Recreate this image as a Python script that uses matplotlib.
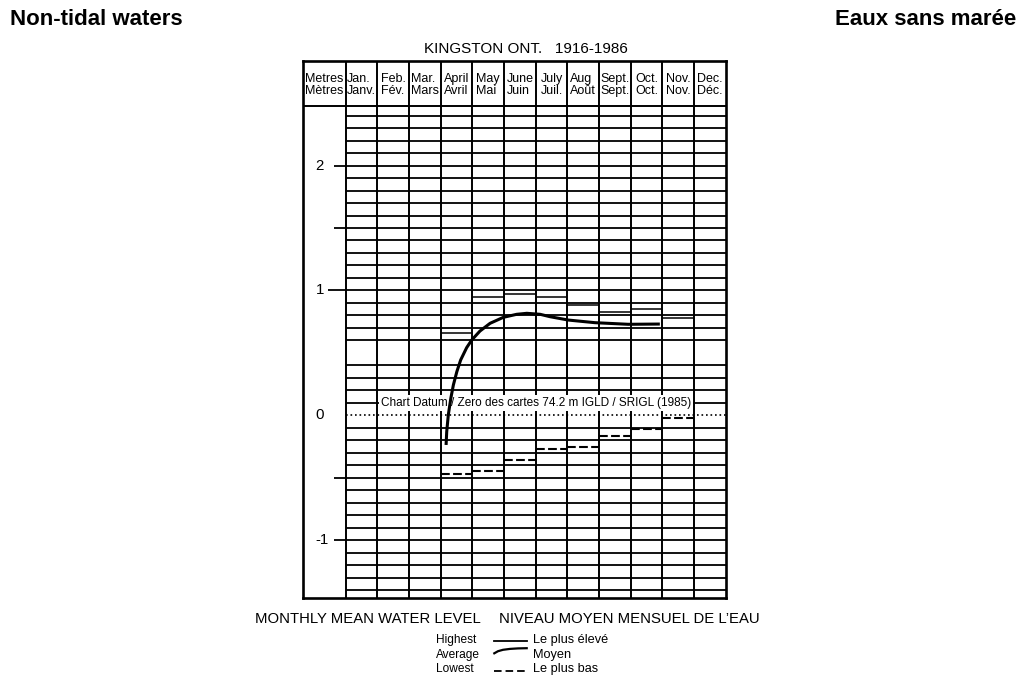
import matplotlib
matplotlib.use("Agg")
import matplotlib.pyplot as plt
from matplotlib.lines import Line2D
from matplotlib.transforms import blended_transform_factory
import numpy as np

plt.rcParams['font.family'] = ['Liberation Sans', 'DejaVu Sans']

# ---------------- data ----------------
title = "KINGSTON ONT.   1916-1986"
months_en = ["Jan.", "Feb.", "Mar.", "April", "May", "June", "July", "Aug", "Sept.", "Oct.", "Nov.", "Dec."]
months_fr = ["Janv.", "Fév.", "Mars", "Avril", "Mai", "Juin", "Juil.", "Août", "Sept.", "Oct.", "Nov.", "Déc."]

# month index (0 = January) of the months that carry extremes
extreme_months = [3, 4, 5, 6, 7, 8, 9, 10]
highest = [0.66, 0.945, 0.97, 0.95, 0.88, 0.83, 0.85, 0.78]
lowest = [-0.47, -0.445, -0.357, -0.27, -0.25, -0.165, -0.11, -0.025]

# average curve (x in month units, 0 = start of January)
average_x = [3.17, 3.19, 3.24, 3.32, 3.40, 3.51, 3.63, 3.82, 3.98, 4.24, 4.56,
             4.98, 5.40, 5.72, 6.14, 6.45, 7.03, 7.87, 8.92, 9.92]
average_y = [-0.237, -0.131, 0.003, 0.137, 0.243, 0.35, 0.443, 0.542, 0.603, 0.675, 0.737,
             0.785, 0.809, 0.817, 0.809, 0.79, 0.763, 0.742, 0.729, 0.731]

ytick_values = [2, 1, 0, -1]
ytick_labels = ["2", "1", "0", "-1"]
half_ticks = [1.5, -0.5]
datum_label = "Chart Datum / Zero des cartes 74.2 m IGLD / SRIGL (1985)"

# ---------------- layout ----------------
W, H = 1028, 699
fig = plt.figure(figsize=(W / 100, H / 100), dpi=100)
fig.patch.set_facecolor('white')


def fx(px):
    return px / W


def fy(py):
    return 1 - py / H


L, R, T, B = 303.3, 725.7, 60.7, 598.3
COL0 = 345.7
col_w = (R - COL0) / 12
metres_w = (COL0 - L) / col_w


def v_of(py):
    return 0.5 + (352.9 - py) / 124.9


ax = fig.add_axes([fx(L), fy(B), fx(R) - fx(L), fy(T) - fy(B)])
ax.set_xlim(-metres_w, 12)
ax.set_ylim(v_of(B), v_of(T))
ax.set_xticks([])
ax.set_yticks([])
for s in ax.spines.values():
    s.set_linewidth(1.9)
    s.set_zorder(6)

header_bottom = v_of(105.7)
ymin, ymax = v_of(B), v_of(T)

# horizontal grid (0.1 m), no line at 0.5, dotted at 0
grid_levels = [round(v, 1) for v in np.arange(-1.4, 2.45, 0.1)]
for v in grid_levels:
    if v in (0.5, 0.0):
        continue
    ax.hlines(v, 0, 12, color='black', lw=1.3, zorder=1)
ax.hlines(0, 0, 12, color='black', lw=1.2, linestyles=[(0, (1, 1.7))], zorder=1)

# header line and column lines
ax.hlines(header_bottom, -metres_w, 12, color='black', lw=1.4, zorder=2)
ax.vlines(list(range(0, 12)), ymin, ymax, color='black', lw=1.4, zorder=2)

# y ticks
ax.hlines([2, -1] + half_ticks, -0.36, 0, color='black', lw=1.3, zorder=2)
ax.hlines(1, -0.55, 0, color='black', lw=1.3, zorder=2)
label_x = (315.5 - COL0) / col_w
for v, lab in zip(ytick_values, ytick_labels):
    ax.text(label_x, v, lab, ha='left', va='center', fontsize=10.8, zorder=5)

# header texts (baseline of the second line)
btr = blended_transform_factory(ax.transData, fig.transFigure)
ax.text(-metres_w / 2, fy(94.0), "Metres\nMètres", transform=btr, ha='center', va='baseline',
        multialignment='left', fontsize=9, linespacing=1.02)
for i, (en, fr) in enumerate(zip(months_en, months_fr)):
    ax.text(i + 0.5, fy(94.0), en + "\n" + fr, transform=btr, ha='center', va='baseline',
            multialignment='left', fontsize=9, linespacing=1.02)

# datum label
ax.text(6.01, 0.1, datum_label, ha='center', va='center', fontsize=8.5, zorder=3,
        bbox=dict(facecolor='white', edgecolor='none', pad=1.6))

# highest / lowest / average
for m, h in zip(extreme_months, highest):
    ax.hlines(h, m, m + 1, color='black', lw=1.1, zorder=4)
for m, lo in zip(extreme_months, lowest):
    ax.hlines(lo, m, m + 1, color='black', lw=1.5, linestyles=[(0, (4.2, 1.6))], zorder=4)
ax.plot(average_x, average_y, color='black', lw=2.2, solid_capstyle='butt',
        solid_joinstyle='round', zorder=5)

# ---------------- figure texts ----------------
fig.text(fx(10), fy(25), "Non-tidal waters", fontsize=16, fontweight='bold', ha='left', va='baseline')
fig.text(fx(1016), fy(25), "Eaux sans marée", fontsize=16, fontweight='bold', ha='right', va='baseline')
fig.text(fx(525.8), fy(53.3), title, fontsize=11, ha='center', va='baseline')
fig.text(fx(255), fy(623.3), "MONTHLY MEAN WATER LEVEL", fontsize=10.7, ha='left', va='baseline')
fig.text(fx(499.3), fy(623.3), "NIVEAU MOYEN MENSUEL DE L’EAU", fontsize=10.75, ha='left', va='baseline')

leg_en = ["Highest", "Average", "Lowest"]
leg_fr = ["Le plus élevé", "Moyen", "Le plus bas"]
leg_base = [643.3, 657.7, 672.3]
for en, fr, yb in zip(leg_en, leg_fr, leg_base):
    fig.text(fx(435.7), fy(yb), en, fontsize=8.6, ha='left', va='baseline')
    fig.text(fx(533.3), fy(yb), fr, fontsize=9.2, ha='left', va='baseline')

fig.add_artist(Line2D([fx(494.3), fx(526.7)], [fy(641.3), fy(641.3)], color='black', lw=1.3))
fig.add_artist(Line2D([fx(494.3), fx(498), fx(503), fx(510), fx(518), fx(526.7)],
                      [fy(653.3), fy(651.2), fy(649.8), fy(648.9), fy(648.4), fy(648.2)],
                      color='black', lw=1.6))
fig.add_artist(Line2D([fx(494.3), fx(526.7)], [fy(670.7), fy(670.7)], color='black', lw=1.3,
                      linestyle=(0, (4.2, 2.2))))

fig.savefig("out.png", dpi=100, facecolor='white')
